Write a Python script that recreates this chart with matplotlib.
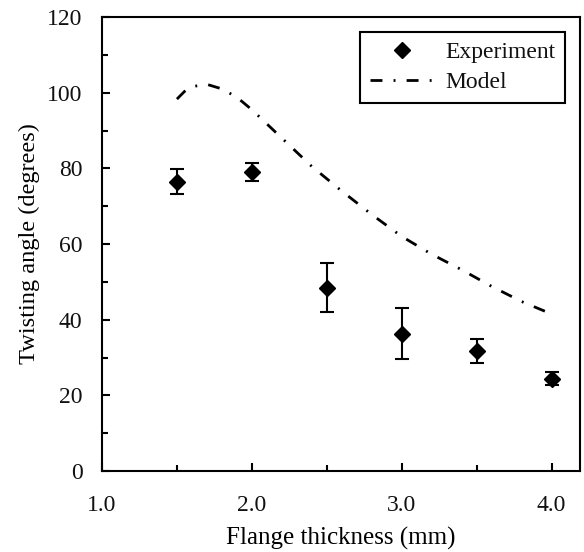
import numpy as np
import matplotlib
import matplotlib.pyplot as plt
from matplotlib.ticker import MultipleLocator, FormatStrFormatter
matplotlib.use('Agg')

# Experiment data (mean and error)
exp_x = [1.5, 2.0, 2.5, 3.0, 3.5, 4.0]
exp_y = [76.5, 79.0, 48.5, 36.3, 31.8, 24.4]
exp_err = [3.2, 2.3, 6.6, 6.7, 3.2, 1.8]

# Model curve
model_x = [1.5, 1.55, 1.6, 1.7, 1.8, 1.9, 2.0, 2.2, 2.4, 2.6, 2.8, 3.0, 3.2, 3.4, 3.6, 3.8, 4.0]
model_y = [98.3, 100.3, 101.6, 102.2, 101.0, 98.8, 95.5, 88.0, 80.5, 74.0, 67.8, 62.0, 57.3, 53.2, 48.8, 44.8, 41.5]

plt.rcParams['font.family'] = ['Liberation Serif', 'DejaVu Serif']
plt.rcParams['text.color'] = '#111111'

fig = plt.figure(figsize=(5.84, 5.52), dpi=100)
ax = fig.add_axes([102 / 584, 81 / 552, 478 / 584, 454 / 552])

# model line, dash-dot
ax.plot(model_x, model_y, color='black', lw=2.0, dashes=(4.3, 4.0, 0.7, 4.0), label='Model', zorder=2)
# error bars, then markers on top (so the legend shows only the diamond)
ax.errorbar(exp_x, exp_y, yerr=exp_err, fmt='none', ecolor='black',
            elinewidth=1.5, capsize=5, capthick=1.5, zorder=3)
ax.plot(exp_x, exp_y, 'D', color='black', ms=8, label='Experiment', zorder=4)

ax.set_xlim(1.0, 4.19)
ax.set_ylim(0, 120)
ax.xaxis.set_major_locator(MultipleLocator(1.0))
ax.xaxis.set_minor_locator(MultipleLocator(0.5))
ax.yaxis.set_major_locator(MultipleLocator(20))
ax.yaxis.set_minor_locator(MultipleLocator(10))
ax.xaxis.set_major_formatter(FormatStrFormatter('%.1f'))
ax.tick_params(which='both', direction='in', width=1.5, top=False, right=False,
               labelsize=17, colors='black', labelcolor='#111111')
ax.tick_params(which='major', length=6)
ax.tick_params(which='minor', length=4.5)
ax.tick_params(axis='y', which='major', pad=14)
ax.tick_params(axis='x', which='major', pad=17)
for s in ax.spines.values():
    s.set_linewidth(1.5)

ax.set_xlabel('Flange thickness (mm)', fontsize=18, labelpad=8)
ax.set_ylabel('Twisting angle (degrees)', fontsize=17.6, labelpad=5)

handles, labels = ax.get_legend_handles_labels()
order = [labels.index('Experiment'), labels.index('Model')]
leg = ax.legend([handles[i] for i in order], [labels[i] for i in order], loc='upper right',
                fancybox=False, edgecolor='black', framealpha=1, borderaxespad=0.65,
                handlelength=2.75, handletextpad=0.45, labelspacing=0.35, fontsize=17)
leg.get_frame().set_linewidth(1.5)

plt.savefig('out.png', dpi=100)
plt.close('all')
